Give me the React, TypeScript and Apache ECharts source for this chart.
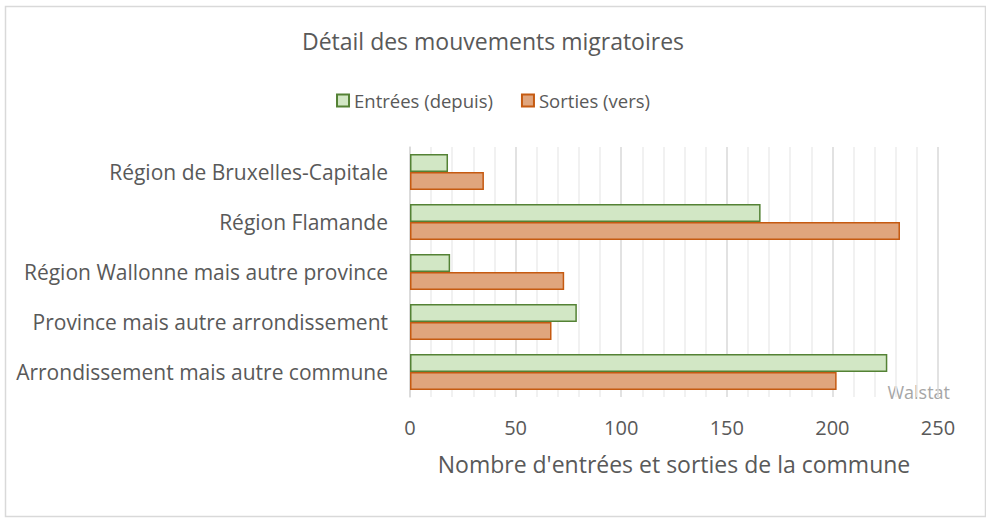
import React, { useEffect, useRef } from "react";
import * as echarts from "echarts";

const categories = [
  "Région de Bruxelles-Capitale",
  "Région Flamande",
  "Région Wallonne mais autre province",
  "Province mais autre arrondissement",
  "Arrondissement mais autre commune",
];
const entrees = [18, 166, 19, 79, 226];
const sorties = [35, 232, 73, 67, 202];
const seriesNames = ["Entrées (depuis)", "Sorties (vers)"];

const FONT = "Open Sans";
const TXT = "#595959";

export default function App() {
  const ref = useRef<HTMLDivElement>(null);
  useEffect(() => {
    document.body.style.margin = "0";
    const chart = echarts.init(ref.current!, null, { renderer: "svg" });
    chart.setOption({
      animation: false,
      textStyle: { fontFamily: FONT },
      title: {
        text: "Détail des mouvements migratoires",
        left: "center",
        top: 24,
        textStyle: { fontSize: 23, fontWeight: "normal", color: TXT, fontFamily: FONT },
      },
      legend: {
        top: 86,
        left: "center",
        icon: "rect",
        itemWidth: 12,
        itemHeight: 12,
        itemGap: 28,
        textStyle: { fontSize: 18.5, color: TXT, fontFamily: FONT },
        data: seriesNames,
      },
      grid: { left: 410, right: 48, top: 147, bottom: 121 },
      xAxis: {
        type: "value",
        min: 0,
        max: 250,
        interval: 50,
        name: "Nombre d'entrées et sorties de la commune",
        nameLocation: "middle",
        nameGap: 55,
        nameTextStyle: { fontSize: 23, color: TXT, fontFamily: FONT },
        axisLine: { show: false },
        axisTick: { show: false },
        axisLabel: { fontSize: 20, color: TXT, margin: 20, fontFamily: FONT },
        splitLine: { show: true, lineStyle: { color: "#d9d9d9", width: 1.5 } },
        minorTick: { show: false, splitNumber: 5 },
        minorSplitLine: { show: true, lineStyle: { color: "#ececec", width: 1.5 } },
      },
      yAxis: {
        type: "category",
        data: categories,
        inverse: true,
        axisLine: { show: true, lineStyle: { color: "#d9d9d9", width: 1.5 } },
        axisTick: { show: false },
        axisLabel: { fontSize: 21, color: TXT, margin: 22, fontFamily: FONT },
      },
      series: [
        {
          name: seriesNames[0],
          type: "bar",
          data: entrees,
          barGap: "0%",
          barCategoryGap: "28%",
          itemStyle: { color: "#d2e7c5", borderColor: "#548235", borderWidth: 1.5 },
        },
        {
          name: seriesNames[1],
          type: "bar",
          data: sorties,
          barGap: "0%",
          barCategoryGap: "28%",
          itemStyle: { color: "#e0a57d", borderColor: "#c55a11", borderWidth: 1.5 },
        },
      ],
      graphic: [
        {
          type: "rect",
          left: 3,
          top: 4,
          shape: { width: 980, height: 510 },
          style: { fill: "none", stroke: "#d9d9d9", lineWidth: 1.5 },
          silent: true,
        },
        {
          type: "text",
          right: 36,
          top: 383,
          style: { text: "Walstat", fill: "#a6a6a6", fontSize: 18, fontFamily: FONT },
        },
      ],
    });
    return () => chart.dispose();
  }, []);
  return <div ref={ref} style={{ width: 986, height: 518 }} />;
}
